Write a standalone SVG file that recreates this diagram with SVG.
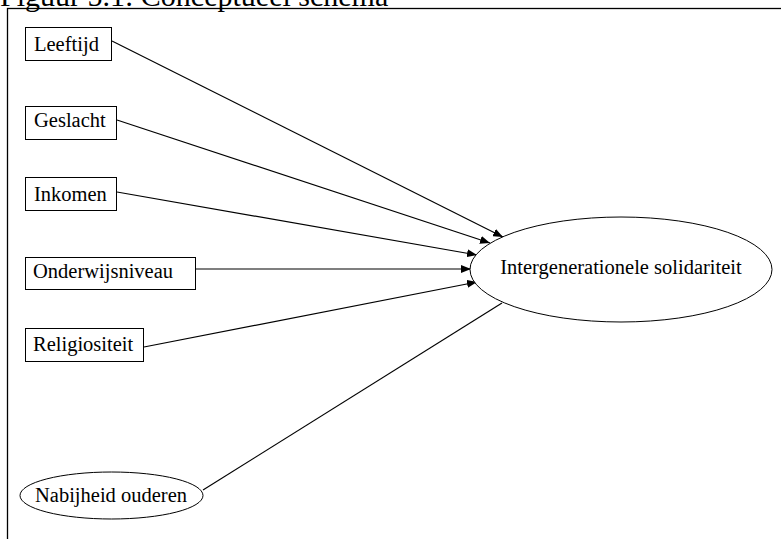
<svg xmlns="http://www.w3.org/2000/svg" width="781" height="539" viewBox="0 0 781 539">
<style>
.lbl{font-family:"Liberation Serif","Times New Roman",serif;font-size:20.5px;fill:#000}
.box{fill:#fff;stroke:#000;stroke-width:1}
.conn{stroke:#000;stroke-width:1.2;fill:none}
</style>
<defs>
<marker id="arr" viewBox="0 0 10 8" refX="10" refY="4" markerWidth="10" markerHeight="8" markerUnits="userSpaceOnUse" orient="auto">
<path d="M0,0 L10,4 L0,8 Z" fill="#000"/>
</marker>
</defs>
<rect width="781" height="539" fill="#fff"/>
<text x="0" y="6" font-family="Liberation Serif, Times New Roman, serif" font-size="30" fill="#000">Figuur 5.1: Conceptueel schema</text>
<rect x="7.5" y="8.5" width="800" height="560" fill="none" stroke="#000" stroke-width="1.3"/>
<g id="connectors">
<line class="conn" x1="112" y1="41" x2="503" y2="237" marker-end="url(#arr)"/>
<line class="conn" x1="117" y1="120" x2="490" y2="243" marker-end="url(#arr)"/>
<line class="conn" x1="117" y1="192" x2="477" y2="255" marker-end="url(#arr)"/>
<line class="conn" x1="196" y1="269" x2="471" y2="269" marker-end="url(#arr)"/>
<line class="conn" x1="144" y1="347" x2="477" y2="282" marker-end="url(#arr)"/>
<line class="conn" x1="203" y1="490" x2="502" y2="303"/>
</g>
<g id="leeftijd">
<rect class="box" x="25.5" y="27.5" width="86" height="33"/>
<text class="lbl" font-family="Liberation Serif, serif" x="34" y="51">Leeftijd</text>
</g>
<g id="geslacht">
<rect class="box" x="25.5" y="106.5" width="91" height="33"/>
<text class="lbl" font-family="Liberation Serif, serif" x="34" y="127">Geslacht</text>
</g>
<g id="inkomen">
<rect class="box" x="25.5" y="177.5" width="91" height="33"/>
<text class="lbl" font-family="Liberation Serif, serif" x="34" y="201">Inkomen</text>
</g>
<g id="onderwijsniveau">
<rect class="box" x="25.5" y="257.5" width="170" height="32"/>
<text class="lbl" font-family="Liberation Serif, serif" x="33" y="278">Onderwijsniveau</text>
</g>
<g id="religiositeit">
<rect class="box" x="25.5" y="328.5" width="118" height="33"/>
<text class="lbl" font-family="Liberation Serif, serif" x="33" y="351">Religiositeit</text>
</g>
<g id="nabijheid">
<ellipse class="box" cx="111.5" cy="495.5" rx="91.5" ry="23.5"/>
<text class="lbl" font-family="Liberation Serif, serif" x="111" y="502" text-anchor="middle">Nabijheid ouderen</text>
</g>
<g id="solidariteit">
<ellipse class="box" cx="621" cy="269.5" rx="151" ry="52.5"/>
<text class="lbl" font-family="Liberation Serif, serif" x="621" y="274" text-anchor="middle">Intergenerationele solidariteit</text>
</g>
</svg>
